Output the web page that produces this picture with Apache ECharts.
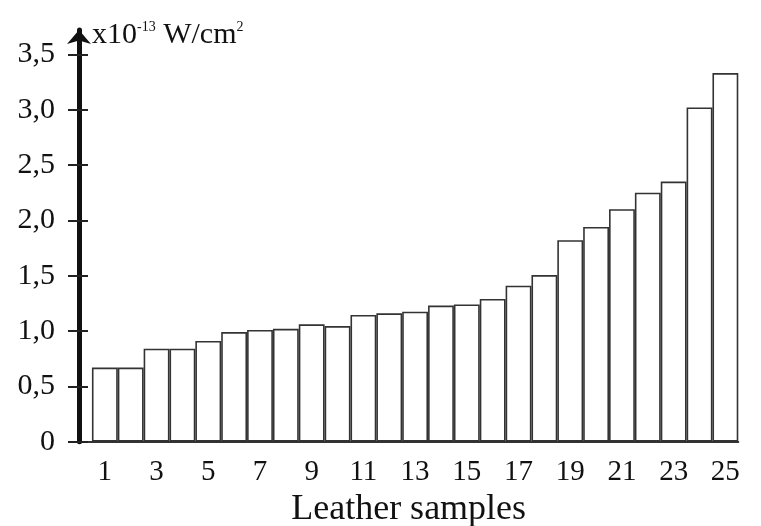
<!DOCTYPE html>
<html>
<head>
<meta charset="utf-8">
<script src="https://cdn.jsdelivr.net/npm/echarts@6/dist/echarts.min.js"></script>
<style>
  html, body { margin: 0; padding: 0; background: #fff; }
  #chart { width: 761px; height: 526px; }
</style>
</head>
<body>
<div id="chart"></div>
<script>
// Leather sample numbers and their measured intensity (x10^-13 W/cm^2)
const samples = [1, 2, 3, 4, 5, 6, 7, 8, 9, 10, 11, 12, 13, 14, 15, 16, 17, 18, 19, 20, 21, 22, 23, 24, 25];
const intensity = [0.67, 0.67, 0.84, 0.84, 0.91, 0.99, 1.01, 1.02, 1.06, 1.045, 1.145, 1.16, 1.175,
                   1.23, 1.24, 1.29, 1.41, 1.505, 1.82, 1.94, 2.10, 2.25, 2.35, 3.02, 3.33];
const yTicks = [0, 0.5, 1.0, 1.5, 2.0, 2.5, 3.0, 3.5];
const xLabelled = [1, 3, 5, 7, 9, 11, 13, 15, 17, 19, 21, 23, 25];

const FONT = '"Liberation Serif", "DejaVu Serif", serif';
const INK = '#111';

const gridLeft = 79, gridRight = 22.7, gridTop = 54.3, gridBottom = 84.3;
const xMax = 25.5;
const plotW = 761 - gridLeft - gridRight;
const unitPx = plotW / xMax;

const chart = echarts.init(document.getElementById('chart'), null, { renderer: 'canvas' });

chart.setOption({
  animation: false,
  backgroundColor: '#fff',
  grid: [
    { left: gridLeft, right: gridRight, top: gridTop, bottom: gridBottom, containLabel: false, outerBoundsMode: 'none' },
    { left: gridLeft, right: gridRight, top: 30, bottom: gridBottom, containLabel: false, outerBoundsMode: 'none' }
  ],
  xAxis: [
    {
      type: 'value', gridIndex: 0, min: 0, max: xMax, interval: 1,
      axisLine: { show: true, lineStyle: { color: '#333', width: 2 } },
      axisTick: { show: false },
      splitLine: { show: false },
      axisLabel: {
        margin: 16,
        fontFamily: FONT, fontSize: 29, color: INK,
        formatter: v => (xLabelled.indexOf(v) >= 0 ? String(v) : '')
      },
      name: 'Leather samples',
      nameLocation: 'middle',
      nameGap: 42,
      nameTextStyle: { fontFamily: FONT, fontSize: 36, color: INK }
    },
    { type: 'value', gridIndex: 1, min: 0, max: 1, show: false }
  ],
  yAxis: [
    {
      type: 'value', gridIndex: 0, position: 'left',
      min: yTicks[0], max: yTicks[yTicks.length - 1], interval: 0.5,
      axisLine: { show: false },
      axisTick: { show: true, length: 11, lineStyle: { color: '#222', width: 2 } },
      splitLine: { show: false },
      axisLabel: {
        margin: 24,
        fontFamily: FONT, fontSize: 30, color: INK,
        formatter: v => (v === 0 ? '0' : v.toFixed(1).replace('.', ','))
      },
      name: '{a|x10}{s|-13}{a| W/cm}{s|2}',
      nameLocation: 'end',
      nameGap: 19,
      nameTextStyle: {
        align: 'left', verticalAlign: 'middle', padding: [0, 0, 0, 13],
        rich: {
          a: { fontFamily: FONT, fontSize: 30, color: INK },
          s: { fontFamily: FONT, fontSize: 14, color: INK, verticalAlign: 'top' }
        }
      }
    },
    {
      // inner half of the crossing ticks
      type: 'value', gridIndex: 0, position: 'left', offset: 0,
      min: yTicks[0], max: yTicks[yTicks.length - 1], interval: 0.5,
      axisLine: { show: false },
      axisTick: { show: true, inside: true, length: 9, lineStyle: { color: '#222', width: 2 } },
      axisLabel: { show: false },
      splitLine: { show: false }
    },
    {
      // vertical axis line with arrow head
      type: 'value', gridIndex: 1, position: 'left', min: 0, max: 1,
      axisLine: {
        show: true, symbol: ['none', 'arrow'], symbolSize: [18, 14],
        lineStyle: { color: INK, width: 5 }
      },
      axisTick: { show: false },
      axisLabel: { show: false },
      splitLine: { show: false }
    }
  ],
  series: [
    {
      type: 'bar',
      xAxisIndex: 0, yAxisIndex: 0,
      barWidth: unitPx,
      data: samples.map((s, i) => [s, intensity[i]]),
      itemStyle: { color: '#fff', borderColor: '#333', borderWidth: 1.6 },
      emphasis: { disabled: true },
      z: 1
    }
  ]
});
</script>
</body>
</html>
